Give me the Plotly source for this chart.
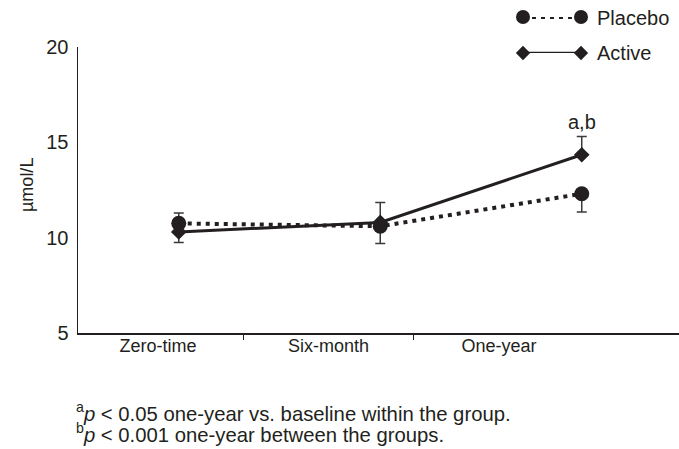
import plotly.graph_objects as go

# ---- data ----
categories = ["Zero-time", "Six-month", "One-year"]
placebo = [10.75, 10.6, 12.3]
placebo_err_plus = [0.55, 0.0, 0.0]
placebo_err_minus = [0.0, 0.9, 0.95]
active = [10.3, 10.8, 14.35]
active_err_plus = [0.0, 1.05, 0.95]
active_err_minus = [0.55, 0.0, 0.0]
y_ticks = [5, 10, 15, 20]
footnotes = ["<sup>a</sup><i>p</i> < 0.05 one-year vs. baseline within the group.",
             "<sup>b</sup><i>p</i> < 0.001 one-year between the groups."]
sig_label = "a,b"

W, H = 679, 449
TXT = "#231f20"
FONT = "Liberation Sans, Arial, sans-serif"

def px_x(p):
    return p / W

def px_y(p):
    return (H - p) / H

# plot area in pixels
L, R, T, B = 78, 679, 47, 333

x_idx = [i + 0.5 for i in range(len(categories))]

fig = go.Figure()

fig.add_trace(go.Scatter(
    x=x_idx, y=placebo, name="Placebo", mode="lines+markers",
    line=dict(color=TXT, width=4, dash="4px,5px"),
    marker=dict(symbol="circle", size=15, color=TXT),
    error_y=dict(type="data", symmetric=False, array=placebo_err_plus,
                 arrayminus=placebo_err_minus, color="#3a3a3a", thickness=1.5, width=5),
    cliponaxis=False, showlegend=False))

fig.add_trace(go.Scatter(
    x=x_idx, y=active, name="Active", mode="lines+markers",
    line=dict(color=TXT, width=3),
    marker=dict(symbol="diamond", size=12, color=TXT),
    error_y=dict(type="data", symmetric=False, array=active_err_plus,
                 arrayminus=active_err_minus, color="#3a3a3a", thickness=1.5, width=5),
    cliponaxis=False, showlegend=False))

# dummy trace to carry the category label axis
fig.add_trace(go.Scatter(x=list(range(len(categories))), y=[None] * len(categories),
                         xaxis="x2", yaxis="y", mode="markers", showlegend=False,
                         hoverinfo="skip"))

# legend keys (drawn manually: markers at both ends of the line)
fig.add_trace(go.Scatter(x=[0, 1], y=[1, 1], xaxis="x3", yaxis="y3", mode="lines+markers",
                         line=dict(color=TXT, width=4, dash="4px,5px"),
                         marker=dict(symbol="circle", size=14, color=TXT),
                         cliponaxis=False, showlegend=False, hoverinfo="skip"))
fig.add_trace(go.Scatter(x=[0, 1], y=[0, 0], xaxis="x3", yaxis="y3", mode="lines+markers",
                         line=dict(color=TXT, width=2.5),
                         marker=dict(symbol="diamond", size=11, color=TXT),
                         cliponaxis=False, showlegend=False, hoverinfo="skip"))

n = len(categories)
lab_w = 170.5
lab_start = -80 / lab_w

fig.update_layout(
    width=W, height=H,
    margin=dict(l=0, r=0, t=0, b=0, pad=0, autoexpand=False),
    paper_bgcolor="white", plot_bgcolor="white",
    font=dict(family=FONT, color=TXT, size=18),
    hovermode=False,
    xaxis=dict(domain=[px_x(L), px_x(R)], range=[0, (R - L) / 201.5],
               showticklabels=False, ticks="", showgrid=False, zeroline=False,
               showline=True, linecolor=TXT, linewidth=1.5, anchor="y", automargin=False),
    xaxis2=dict(overlaying="x", anchor="y", side="bottom", automargin=False,
                range=[lab_start, lab_start + (R - L) / lab_w],
                tickmode="array", tickvals=list(range(n)), ticktext=categories,
                ticks="", showline=False, showgrid=False, zeroline=False,
                tickfont=dict(size=18, color=TXT),
                minor=dict(tickmode="array", tickvals=[i + 0.5 for i in range(n - 1)],
                           ticks="outside", ticklen=6, tickwidth=1.2, tickcolor=TXT,
                           showgrid=False)),
    yaxis=dict(domain=[px_y(B), px_y(T)], range=[5, 20], tickvals=y_ticks,
               ticks="", showgrid=False, zeroline=False, automargin=False,
               showline=True, linecolor=TXT, linewidth=1.5,
               tickfont=dict(size=20, color=TXT), ticklabelstandoff=4),
    xaxis3=dict(domain=[px_x(523), px_x(581)], range=[0, 1], visible=False,
                anchor="y3", automargin=False),
    yaxis3=dict(domain=[px_y(53), px_y(17)], range=[0, 1], visible=False,
                anchor="x3", automargin=False),
)

annotations = [
    dict(x=px_x(27), y=px_y(185), xref="paper", yref="paper", text="µmol/L",
         textangle=-90, xanchor="center", yanchor="middle", showarrow=False,
         font=dict(size=18, color=TXT)),
    dict(x=px_x(595), y=px_y(18), xref="paper", yref="paper", text="Placebo",
         xanchor="left", yanchor="middle", showarrow=False, font=dict(size=20, color=TXT)),
    dict(x=px_x(595), y=px_y(53), xref="paper", yref="paper", text="Active",
         xanchor="left", yanchor="middle", showarrow=False, font=dict(size=20, color=TXT)),
    dict(x=x_idx[2], y=active[2] + active_err_plus[2], xref="x", yref="y", text=sig_label,
         xanchor="center", yanchor="bottom", yshift=2, showarrow=False,
         font=dict(size=20, color=TXT)),
]
for i, t in enumerate(footnotes):
    annotations.append(dict(x=px_x(74), y=px_y(412 + 21 * i), xref="paper", yref="paper",
                            text=t, xanchor="left", yanchor="middle", showarrow=False,
                            font=dict(size=20.3, color=TXT)))
fig.update_layout(annotations=annotations)

fig.write_html("out.html", config={"displayModeBar": False, "staticPlot": True},
               post_script="document.body.style.margin='0';document.body.style.padding='0';")
